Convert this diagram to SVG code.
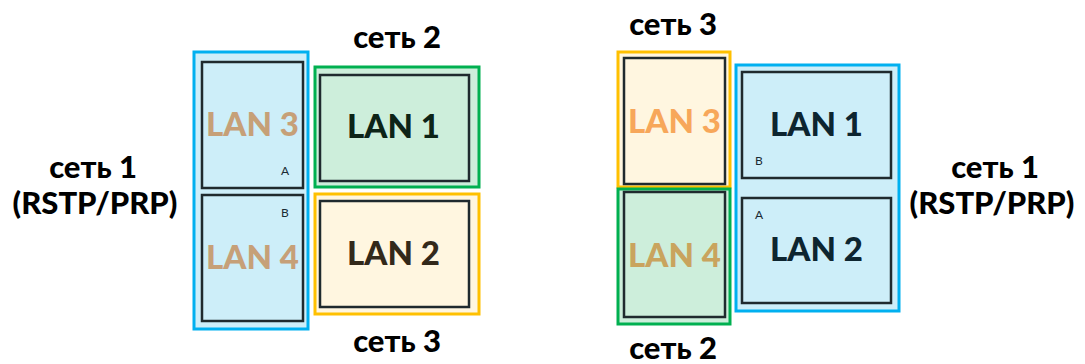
<svg xmlns="http://www.w3.org/2000/svg" width="1085" height="364" viewBox="0 0 1085 364">
<style>
.t{font-family:Lato,"Noto Sans","Liberation Sans",sans-serif;font-weight:900;fill:#000;font-size:31px;text-anchor:middle}
.lan{font-family:Lato,"Noto Sans","Liberation Sans",sans-serif;font-weight:900;font-size:33px;text-anchor:middle}
.sm{font-family:Lato,"Noto Sans","Liberation Sans",sans-serif;font-size:12px;fill:#1a2a33;text-anchor:middle}
.in{stroke:#1f2a2e;stroke-width:2.5}
.blue{fill:#cdeef9;stroke:#00b0f0;stroke-width:3}
.green{fill:#cdeedb;stroke:#00b050;stroke-width:3}
.yel{fill:#fff6e0;stroke:#ffc000;stroke-width:3}
</style>
<g id="left">
<g id="L-set1"><rect class="blue" x="194" y="52" width="114" height="277"/></g>
<g id="L-lan3"><rect class="in" fill="#cdeef9" x="202" y="62" width="101" height="126"/><text class="lan" x="252.5" y="136" fill="#c6a078">LAN 3</text><text class="sm" x="285" y="175">A</text></g>
<g id="L-lan4"><rect class="in" fill="#cdeef9" x="202" y="195" width="101" height="126"/><text class="lan" x="252.5" y="269" fill="#c6a078">LAN 4</text><text class="sm" x="285" y="217">B</text></g>
<g id="L-set2"><rect class="green" x="315" y="67" width="164" height="120"/></g>
<g id="L-lan1"><rect class="in" fill="#cdeedb" x="320" y="75" width="149" height="106"/><text class="lan" x="393.5" y="138" fill="#0d2417">LAN 1</text></g>
<g id="L-set3"><rect class="yel" x="315" y="194" width="164" height="120"/></g>
<g id="L-lan2"><rect class="in" fill="#fff6e0" stroke="#3a3220" x="320" y="201" width="149" height="106"/><text class="lan" x="393.5" y="265" fill="#33291a">LAN 2</text></g>
<text class="t" x="397" y="48">сеть 2</text>
<text class="t" x="397" y="352">сеть 3</text>
<text class="t" x="93" y="178">сеть 1</text>
<text class="t" x="95" y="214">(RSTP/PRP)</text>
</g>
<g id="right">
<g id="R-set3"><rect class="yel" x="618" y="52" width="112" height="135"/></g>
<g id="R-lan3"><rect class="in" fill="#fff6e0" stroke="#3a3220" x="624" y="58" width="101" height="126"/><text class="lan" x="674.5" y="133" fill="#f7a75a">LAN 3</text></g>
<g id="R-set2"><rect class="green" x="618" y="189" width="112" height="135"/></g>
<g id="R-lan4"><rect class="in" fill="#cdeedb" x="624" y="192" width="101" height="125"/><text class="lan" x="674.5" y="267" fill="#c9a45e">LAN 4</text></g>
<g id="R-set1"><rect class="blue" x="736" y="65" width="163" height="246"/></g>
<g id="R-lan1"><rect class="in" fill="#cdeef9" x="742" y="72" width="149" height="106"/><text class="lan" x="816.5" y="136" fill="#0d2530">LAN 1</text><text class="sm" x="759" y="165">B</text></g>
<g id="R-lan2"><rect class="in" fill="#cdeef9" x="742" y="198" width="149" height="105"/><text class="lan" x="816.5" y="261" fill="#0d2530">LAN 2</text><text class="sm" x="759" y="219">A</text></g>
<text class="t" x="673" y="35">сеть 3</text>
<text class="t" x="673" y="359">сеть 2</text>
<text class="t" x="995" y="178">сеть 1</text>
<text class="t" x="992" y="214">(RSTP/PRP)</text>
</g>
<g id="connectors"/>
</svg>
